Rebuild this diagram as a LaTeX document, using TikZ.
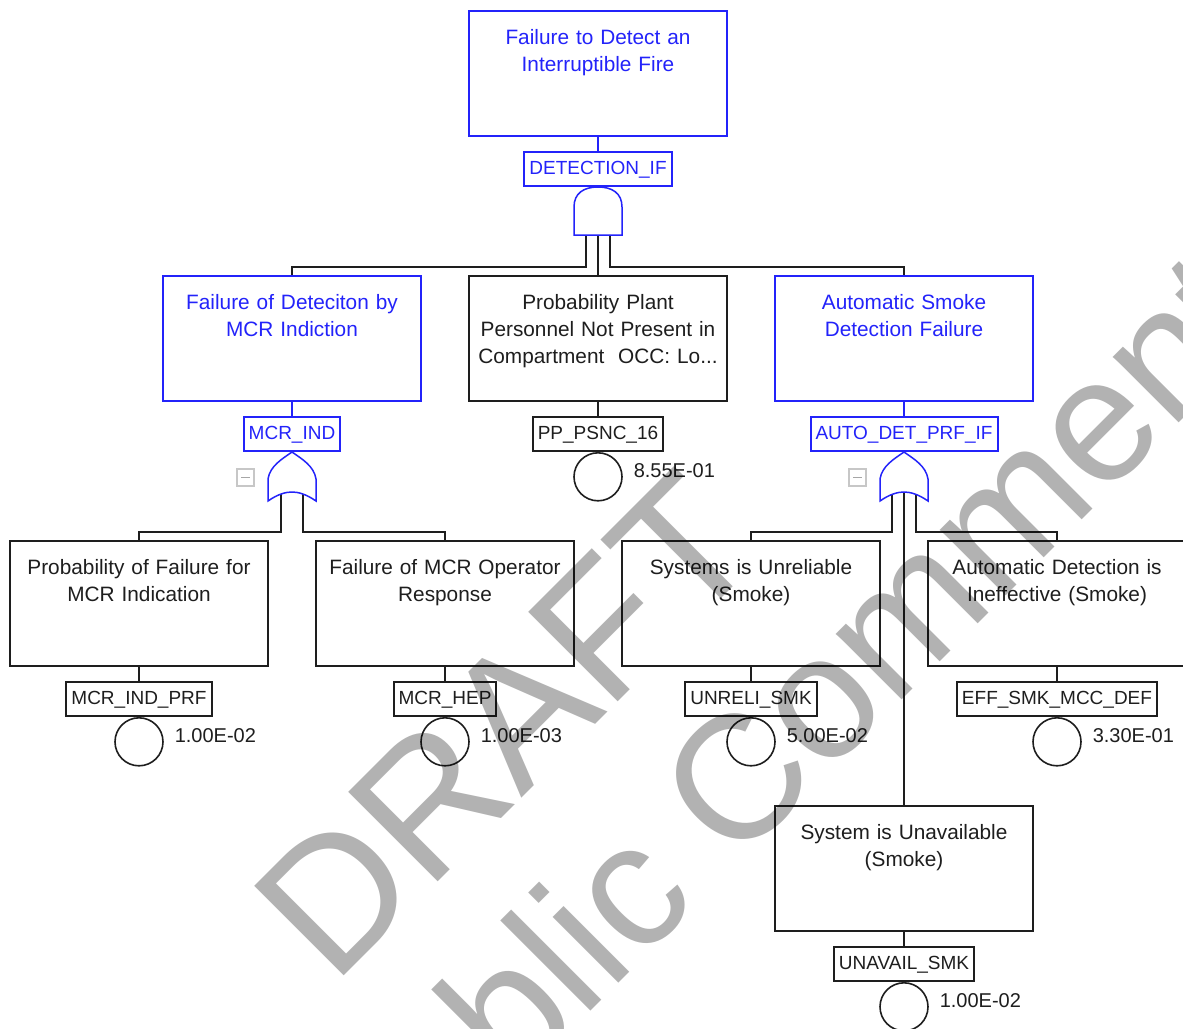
\documentclass[tikz,border=0pt]{standalone}
\usepackage{fontspec}
\setmainfont{Liberation Sans}
\usetikzlibrary{positioning}
\definecolor{ftblue}{RGB}{35,35,250}
\definecolor{ftink}{RGB}{30,30,30}

\begin{document}
\begin{tikzpicture}[x=.5pt,y=-.5pt,line width=1pt,
  evbox/.style={draw=ftink,text=ftink,fill=white,anchor=north,minimum width=129pt,
    text width=120pt,align=center,inner xsep=4.5pt,inner ysep=8.5pt,
    text height=8pt,text depth=37.5pt,font=\fontsize{10.4}{13.5}\selectfont},
  gatebox/.style={evbox,draw=ftblue,text=ftblue},
  tag/.style={draw=ftink,text=ftink,fill=white,inner xsep=2.5pt,inner ysep=0pt,
    minimum height=17pt,text height=7pt,text depth=2pt,font=\fontsize{9.5}{11}\selectfont},
  gatetag/.style={tag,draw=ftblue,text=ftblue},
  basic/.style={circle,draw=ftink,line width=.8pt,fill=white,minimum size=24pt,inner sep=0pt},
  prob/.style={text=ftink,inner sep=0pt,font=\fontsize{10}{12}\selectfont},
  wire/.style={draw=ftink},
  stamp/.style={rotate=45,anchor=base,text=black,text opacity=.3,inner sep=0pt},
  andgate/.pic={
    \draw[ftblue,line width=.75pt,fill=white] (-24,48) -- (-24,20)
      .. controls (-24,6) and (-14,0) .. (0,0) .. controls (14,0) and (24,6) .. (24,20)
      -- (24,48) -- cycle;},
  orgate/.pic={
    \draw[ftblue,line width=.75pt,fill=white] (-24,49) -- (-24,27)
      .. controls (-22,14) and (-10,7) .. (0,0) .. controls (10,7) and (22,14) .. (24,27)
      -- (24,49) .. controls (14,42) and (6,40) .. (0,40)
      .. controls (-6,40) and (-14,42) .. (-24,49) -- cycle;
    \draw[black!22,line width=.6pt] (-55,17) rectangle (-38,34);
    \draw[black!35,line width=.6pt] (-51,25.5) -- (-42,25.5);}]

  \path[use as bounding box,fill=white] (0,0) rectangle (1183,1028);

  \node[gatebox] (top) at (598,10) {Failure to Detect an\\Interruptible Fire};
  \node[gatetag,below=7pt of top] (detag) {DETECTION\_IF};

  \node[gatebox] (mcr) at (292,275) {Failure of Deteciton by\\MCR Indiction};
  \node[evbox] (pp) at (598,275) {Probability Plant\\Personnel Not Present in\\Compartment\ \ OCC: Lo...};
  \node[gatebox] (auto) at (904,275) {Automatic Smoke\\Detection Failure};
  \node[gatetag,below=7pt of mcr] (mcrtag) {MCR\_IND};
  \node[tag,below=7pt of pp] (pptag) {PP\_PSNC\_16};
  \node[gatetag,below=7pt of auto] (autotag) {AUTO\_DET\_PRF\_IF};

  \node[evbox] (pf) at (139,540) {Probability of Failure for\\MCR Indication};
  \node[evbox] (hep) at (445,540) {Failure of MCR Operator\\Response};
  \node[evbox] (unr) at (751,540) {Systems is Unreliable\\(Smoke)};
  \node[evbox] (eff) at (1057,540) {Automatic Detection is\\Ineffective (Smoke)};
  \node[evbox] (unav) at (904,805) {System is Unavailable\\(Smoke)};
  \node[tag,below=7pt of pf] (pftag) {MCR\_IND\_PRF};
  \node[tag,below=7pt of hep] (heptag) {MCR\_HEP};
  \node[tag,below=7pt of unr] (unrtag) {UNRELI\_SMK};
  \node[tag,below=7pt of eff] (efftag) {EFF\_SMK\_MCC\_DEF};
  \node[tag,below=7pt of unav] (unavtag) {UNAVAIL\_SMK};

  \foreach \t/\c/\p in {pptag/ppc/8.55E-01,pftag/pfc/1.00E-02,heptag/hepc/1.00E-03,
      unrtag/unrc/5.00E-02,efftag/effc/3.30E-01,unavtag/unavc/1.00E-02}{
    \node[basic,below=0pt of \t] (\c) {};
    \node[prob,right=5pt of \c,yshift=3pt] (\c-p) {\p};
  }

  \coordinate (g1) at (detag.south);
  \coordinate (g2) at (mcrtag.south);
  \coordinate (g3) at (autotag.south);

  \foreach \b/\t in {top/detag,mcr/mcrtag,auto/autotag}
    \draw[wire,ftblue] (\b) -- (\t);
  \foreach \b/\t in {pp/pptag,pf/pftag,hep/heptag,unr/unrtag,eff/efftag,unav/unavtag}
    \draw[wire] (\b) -- (\t);

  \draw[wire] ([shift={(-12,40)}]g1) -- ++(0,40) -| (mcr.north);
  \draw[wire] ([shift={(0,40)}]g1) -- (pp.north);
  \draw[wire] ([shift={(12,40)}]g1) -- ++(0,40) -| (auto.north);
  \draw[wire] ([shift={(-11,30)}]g2) -- ++(0,50) -| (pf.north);
  \draw[wire] ([shift={(11,30)}]g2) -- ++(0,50) -| (hep.north);
  \draw[wire] ([shift={(-12,30)}]g3) -- ++(0,50) -| (unr.north);
  \draw[wire] ([shift={(0,30)}]g3) -- (unav.north);
  \draw[wire] ([shift={(12,30)}]g3) -- ++(0,50) -| (eff.north);

  \pic at (g1) {andgate};
  \pic at (g2) {orgate};
  \pic at (g3) {orgate};

  \node[stamp,font=\fontsize{92}{100}\selectfont] (draft) at (550,770) {DRAFT};
  \node[stamp,font=\fontsize{88}{96}\selectfont] (pubc) at (818,784) {Public Comment};
\end{tikzpicture}
\end{document}
